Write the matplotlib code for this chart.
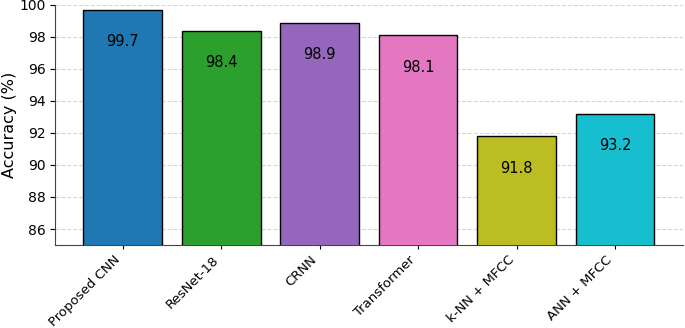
import matplotlib
matplotlib.use("Agg")
import matplotlib.pyplot as plt

models = ["Proposed CNN", "ResNet-18", "CRNN", "Transformer", "k-NN + MFCC", "ANN + MFCC"]
accuracy = [99.7, 98.4, 98.9, 98.1, 91.8, 93.2]
colors = ["tab:blue", "tab:green", "tab:purple", "tab:pink", "tab:olive", "tab:cyan"]

fig, ax = plt.subplots(figsize=(6.85, 3.28), dpi=100)
fig.subplots_adjust(left=0.080, right=0.997, top=0.985, bottom=0.253)

bars = ax.bar(range(len(models)), accuracy, color=colors, edgecolor="black", linewidth=1, width=0.8, zorder=3)
for b, v in zip(bars, accuracy):
    ax.text(b.get_x() + b.get_width() / 2, v - 2, str(v), ha="center", va="center", fontsize=10.5, zorder=4)

ax.set_ylim(85, 100)
ax.set_yticks(range(86, 101, 2))
ax.set_ylabel("Accuracy (%)", fontsize=11.5, labelpad=2)
ax.set_xticks(range(len(models)))
ax.set_xticklabels(models, rotation=45, ha="right", fontsize=9.5)
ax.tick_params(axis="y", labelsize=10, length=3.5, pad=3)
ax.tick_params(axis="x", length=3, pad=3)
ax.grid(axis="y", linestyle="--", alpha=0.5, zorder=0)
for s in ["left", "bottom"]:
    ax.spines[s].set_color("#444444")
ax.spines["top"].set_visible(False)
ax.spines["right"].set_visible(False)

fig.savefig("out.png")
